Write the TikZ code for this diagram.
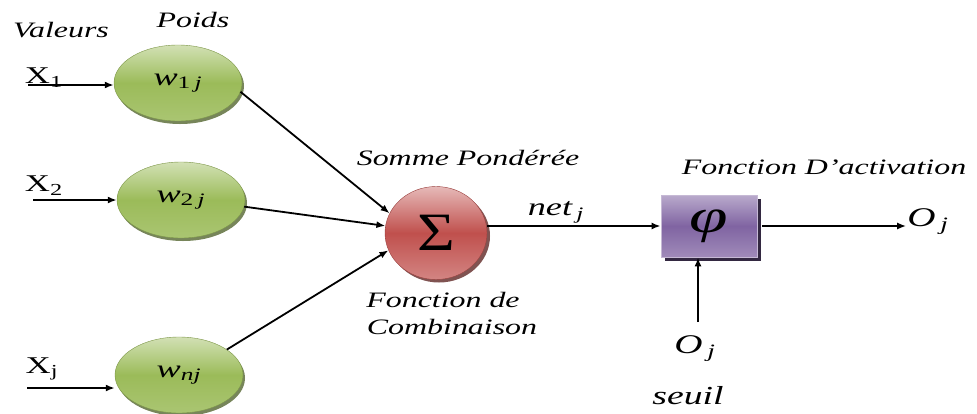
\documentclass[tikz,border=0pt]{standalone}
\usepackage{fontspec}
\setmainfont{Liberation Serif}
\usetikzlibrary{arrows.meta,shadows,shapes.geometric}
\definecolor{vertP}{HTML}{9BBB59}
\definecolor{rougeS}{HTML}{C0504D}
\definecolor{violetA}{HTML}{8064A2}
% texte etire horizontalement
\newcommand{\wide}[1]{\scalebox{1.45}[1]{#1}}
\begin{document}
\begin{tikzpicture}[x=1pt,y=-1pt,
	poids/.style={ellipse,minimum width=128,minimum height=76,inner sep=0pt,
		draw=vertP!80!black,thin,top color=vertP!45!white,bottom color=vertP!85!white,middle color=vertP,
		drop shadow={shadow xshift=2pt,shadow yshift=-3pt,fill=vertP!55!black,opacity=.8},
		font=\fontsize{25}{25}\selectfont},
	somme/.style={ellipse,minimum width=102,minimum height=93,inner sep=0pt,
		draw=rougeS!80!black,thin,top color=rougeS!40!white,bottom color=rougeS!70!white,middle color=rougeS,
		drop shadow={shadow xshift=3pt,shadow yshift=-3pt,fill=rougeS!50!black,opacity=.8},
		font=\fontsize{54}{54}\selectfont},
	activ/.style={rectangle,minimum width=96,minimum height=62,inner sep=0pt,
		draw=violetA!45!white,thick,top color=violetA!55!white,bottom color=violetA!75!white,middle color=violetA,
		drop shadow={shadow xshift=4pt,shadow yshift=-4pt,fill=violetA!40!black,opacity=1},
		font=\fontsize{48}{48}\selectfont\itshape},
	etiq/.style={font=\fontsize{22}{26}\selectfont\itshape},
	entree/.style={font=\fontsize{24}{26}\selectfont},
	sortie/.style={font=\fontsize{27}{30}\selectfont\itshape,inner sep=1pt},
	fleche/.style={-{Latex[length=9pt,width=7pt]},line width=1.8pt}]
	\useasboundingbox (0,0) rectangle (977,413);

	% neurones d'entree
	\node [poids] (w1) at (178,83) {\wide{\itshape w\textsubscript{\upshape 1\,\itshape j}}};
	\node [poids] (w2) at (181,200) {\wide{\itshape w\textsubscript{\upshape 2\,\itshape j}}};
	\node [poids] (wn) at (179,375) {\wide{\itshape w\textsubscript{nj}}};
	\node [somme] (sig) at (436,233) {\scalebox{1.2}[1]{Σ}};
	\node [activ] (phi) at (709,226) {\wide{φ}};

	% textes
	\node [etiq] (valeurs) at (61,30) {\wide{Valeurs}};
	\node [etiq] (poidstxt) at (193,20) {\wide{Poids}};
	\node [etiq] (pond) at (468,158) {\wide{Somme Pondérée}};
	\node [etiq] (combi1) at (443,300) {\wide{Fonction de}};
	\node [etiq] (combi2) at (452,327) {\wide{Combinaison}};
	\node [etiq] (activtxt) at (824,167) {\wide{Fonction D’activation}};
	\node [entree] (x1) at (44,78) {\wide{X\textsubscript{1}}};
	\node [entree] (x2) at (44,186) {\wide{X\textsubscript{2}}};
	\node [entree] (xj) at (42,369) {\wide{X\textsubscript{j}}};
	\node [sortie,font=\fontsize{25}{28}\selectfont\itshape] (net) at (556,212) {\wide{net\textsubscript{\,j}}};
	\node [sortie] (oj) at (928,222) {\wide{O\textsubscript{\,j}}};
	\node [sortie] (ojs) at (695,349) {\wide{O\textsubscript{\,j}}};
	\node [sortie,font=\fontsize{26}{28}\selectfont\itshape] (seuil) at (688,396) {\wide{seuil}};

	% bouts libres des fleches
	\coordinate (e1) at (28,85);
	\coordinate (e2) at (33,200);
	\coordinate (ej) at (27,388);
	\coordinate (s) at (698,322);

	\draw [fleche] (e1) -- (e1 -| w1.west);
	\draw [fleche] (e2) -- (e2 -| w2.west);
	\draw [fleche] (ej) -- (ej -| wn.west);
	\draw [fleche] (w1.-8) -- (sig.157);
	\draw [fleche] (w2.-6) -- (sig.172);
	\draw [fleche] (wn.28) -- (sig.200);
	\draw [fleche] (sig.east |- phi) -- (phi.west);
	\draw [fleche] ([xshift=5pt]phi.east) -- (phi -| oj.west);
	\draw [fleche] (s) -- (s |- phi.south);
\end{tikzpicture}
\end{document}
